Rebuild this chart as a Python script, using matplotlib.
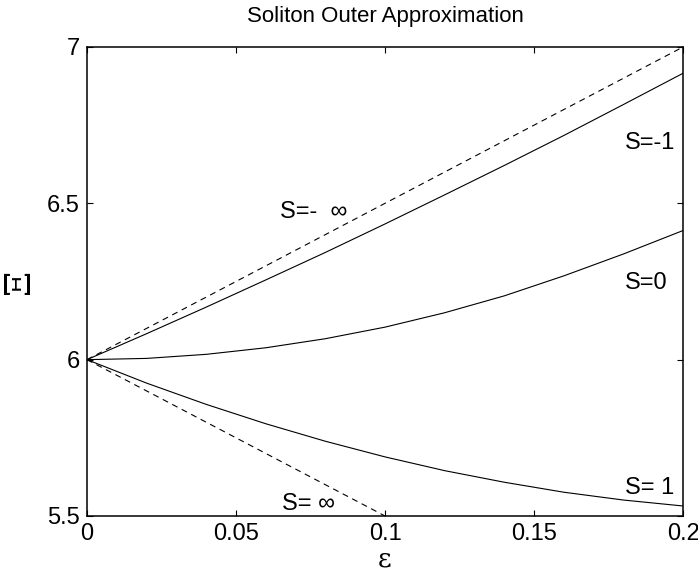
import numpy as np
import matplotlib
matplotlib.use("Agg")
import matplotlib.pyplot as plt

plt.rcParams['font.family'] = ['Liberation Sans', 'DejaVu Sans']
plt.rcParams['lines.scale_dashes'] = False

# Values
eps = [0.0, 0.02, 0.04, 0.06, 0.08, 0.10, 0.12, 0.14, 0.16, 0.18, 0.20]
xi_s_minus1 = [6.0, 6.083, 6.168, 6.255, 6.343, 6.434, 6.527, 6.621, 6.717, 6.816, 6.916]
xi_s_0 = [6.0, 6.004, 6.017, 6.038, 6.067, 6.104, 6.150, 6.204, 6.268, 6.338, 6.413]
xi_s_1 = [6.0, 5.925, 5.857, 5.795, 5.739, 5.689, 5.645, 5.608, 5.576, 5.551, 5.532]

# limiting cases (straight dashed lines)
eps_lim = [0.0, 0.2]
xi_s_minus_inf = [6.0, 7.0]
eps_lim2 = [0.0, 0.1]
xi_s_inf = [6.0, 5.5]

fig = plt.figure(figsize=(6.98, 5.73), dpi=100)
ax = fig.add_axes([0.1246, 0.0995, 0.854, 0.8185])

ax.plot(eps, xi_s_minus1, color='black', lw=0.8)
ax.plot(eps, xi_s_0, color='black', lw=0.8)
ax.plot(eps, xi_s_1, color='black', lw=0.8)
ax.plot(eps_lim, xi_s_minus_inf, color='black', lw=0.8, dashes=[4.3, 3.4])
ax.plot(eps_lim2, xi_s_inf, color='black', lw=0.8, dashes=[4.3, 3.4])

ax.set_xlim(0, 0.2)
ax.set_ylim(5.5, 7)
ax.set_xticks([0, 0.05, 0.1, 0.15, 0.2])
ax.set_xticklabels(['0', '0.05', '0.1', '0.15', '0.2'])
ax.set_yticks([5.5, 6, 6.5, 7])
ax.set_yticklabels(['5.5', '6', '6.5', '7'])
ax.tick_params(direction='in', length=4.5, width=0.8, labelsize=17,
               top=True, right=True, pad=5)
for sp in ax.spines.values():
    sp.set_linewidth(1.1)

lab = dict(fontsize=17, color='black')
ax.text(0.1805, 6.693, 'S=-1', va='center', ha='left', **lab)
ax.text(0.1805, 6.245, 'S=0', va='center', ha='left', **lab)
ax.text(0.1805, 5.59, 'S= 1', va='center', ha='left', **lab)
ax.text(0.0648, 6.472, 'S=-  \u221e', va='center', ha='left', **lab)
ax.text(0.0654, 5.538, 'S= \u221e', va='center', ha='left', **lab)

ax.set_title('Soliton Outer Approximation', fontsize=16, pad=18)
ax.set_xlabel('\u03b5', fontsize=19, family=['DejaVu Serif'], labelpad=1)
ax.set_ylabel('\u039e', fontsize=26, family=['DejaVu Serif'], labelpad=8)

fig.savefig('out.png', dpi=100)
